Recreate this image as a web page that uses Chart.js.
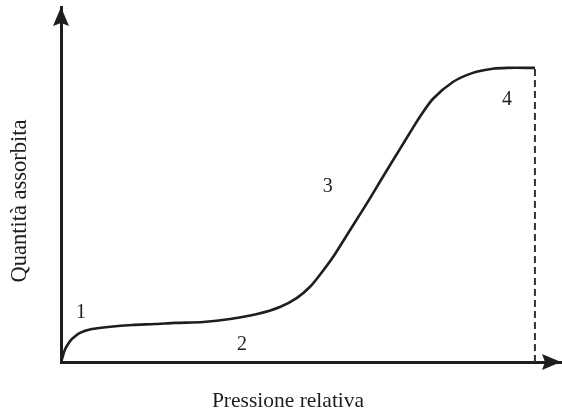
<!DOCTYPE html>
<html>
<head>
<meta charset="utf-8">
<script src="https://cdn.jsdelivr.net/npm/chart.js@4/dist/chart.umd.min.js"></script>
<style>
  html, body { margin: 0; padding: 0; background: #fff; }
  #wrap { width: 562px; height: 412px; }
</style>
</head>
<body>
<div id="wrap"><canvas id="c" width="562" height="412"></canvas></div>
<script>
// Relative pressure (P/P0) and adsorbed quantity (normalised to the plateau)
const pressure = [0, 0.004, 0.008, 0.015, 0.023, 0.040, 0.065, 0.099, 0.150, 0.198, 0.241, 0.300, 0.357, 0.414, 0.462, 0.498, 0.525, 0.546, 0.574, 0.610, 0.646, 0.679, 0.715, 0.736, 0.757, 0.785, 0.827, 0.869, 0.911, 0.941, 1.000];
const adsorbed = [0, 0.020, 0.041, 0.061, 0.078, 0.099, 0.112, 0.119, 0.126, 0.129, 0.133, 0.136, 0.146, 0.163, 0.187, 0.218, 0.255, 0.296, 0.357, 0.449, 0.541, 0.629, 0.724, 0.779, 0.833, 0.895, 0.952, 0.983, 0.997, 1.000, 1.000];
const saturationX = [1.0, 1.0];
const saturationY = [0, 1.0];
const regionLabels = ['1', '2', '3', '4'];
const regionX = [0.042, 0.382, 0.563, 0.941];
const regionY = [0.173, 0.064, 0.602, 0.898];
const xTitle = 'Pressione relativa';
const yTitle = 'Quantità assorbita';

const ink = '#1e1e1e';
const serif = "'Liberation Serif', 'Times New Roman', serif";

const curve = pressure.map((x, i) => ({ x, y: adsorbed[i] }));
const sat = saturationX.map((x, i) => ({ x, y: saturationY[i] }));

const decorations = {
  id: 'decorations',
  afterDraw(chart) {
    const { ctx, chartArea: a, scales: { x, y } } = chart;
    ctx.save();
    ctx.fillStyle = ink;
    // arrow on y axis (pointing up)
    ctx.beginPath();
    ctx.moveTo(a.left, a.top);
    ctx.lineTo(a.left + 8, a.top + 19);
    ctx.lineTo(a.left, a.top + 16);
    ctx.lineTo(a.left - 8, a.top + 19);
    ctx.closePath();
    ctx.fill();
    // arrow on x axis (pointing right)
    ctx.beginPath();
    ctx.moveTo(a.right, a.bottom);
    ctx.lineTo(a.right - 19, a.bottom - 8);
    ctx.lineTo(a.right - 16, a.bottom);
    ctx.lineTo(a.right - 19, a.bottom + 8);
    ctx.closePath();
    ctx.fill();
    // region labels
    ctx.font = '20px ' + serif;
    ctx.textAlign = 'center';
    ctx.textBaseline = 'alphabetic';
    regionLabels.forEach((t, i) => {
      ctx.fillText(t, x.getPixelForValue(regionX[i]), y.getPixelForValue(regionY[i]) + 7);
    });
    // axis titles
    ctx.font = '21.5px ' + serif;
    ctx.textBaseline = 'alphabetic';
    ctx.fillText(xTitle, 288, 407);
    ctx.translate(26, 201);
    ctx.rotate(-Math.PI / 2);
    ctx.font = '22.5px ' + serif;
    ctx.fillText(yTitle, 0, 0);
    ctx.restore();
  }
};

new Chart(document.getElementById('c'), {
  type: 'scatter',
  data: {
    datasets: [
      {
        data: curve,
        showLine: true,
        borderColor: ink,
        borderWidth: 2.6,
        pointRadius: 0,
        tension: 0.3,
        fill: false
      },
      {
        data: sat,
        showLine: true,
        borderColor: '#333',
        borderWidth: 2,
        borderDash: [7, 4],
        pointRadius: 0,
        fill: false
      }
    ]
  },
  options: {
    responsive: false,
    animation: false,
    devicePixelRatio: 1,
    layout: { padding: { left: 61, right: 1, top: 7, bottom: 50 } },
    plugins: { legend: { display: false }, tooltip: { enabled: false } },
    scales: {
      x: {
        type: 'linear', min: 0, max: 1.055,
        grid: { display: false, drawTicks: false },
        ticks: { display: false },
        border: { display: true, width: 3, color: ink },
        title: { display: false }
      },
      y: {
        type: 'linear', min: 0, max: 1.207,
        grid: { display: false, drawTicks: false },
        ticks: { display: false },
        border: { display: true, width: 3, color: ink },
        title: { display: false }
      }
    }
  },
  plugins: [decorations]
});
</script>
</body>
</html>
